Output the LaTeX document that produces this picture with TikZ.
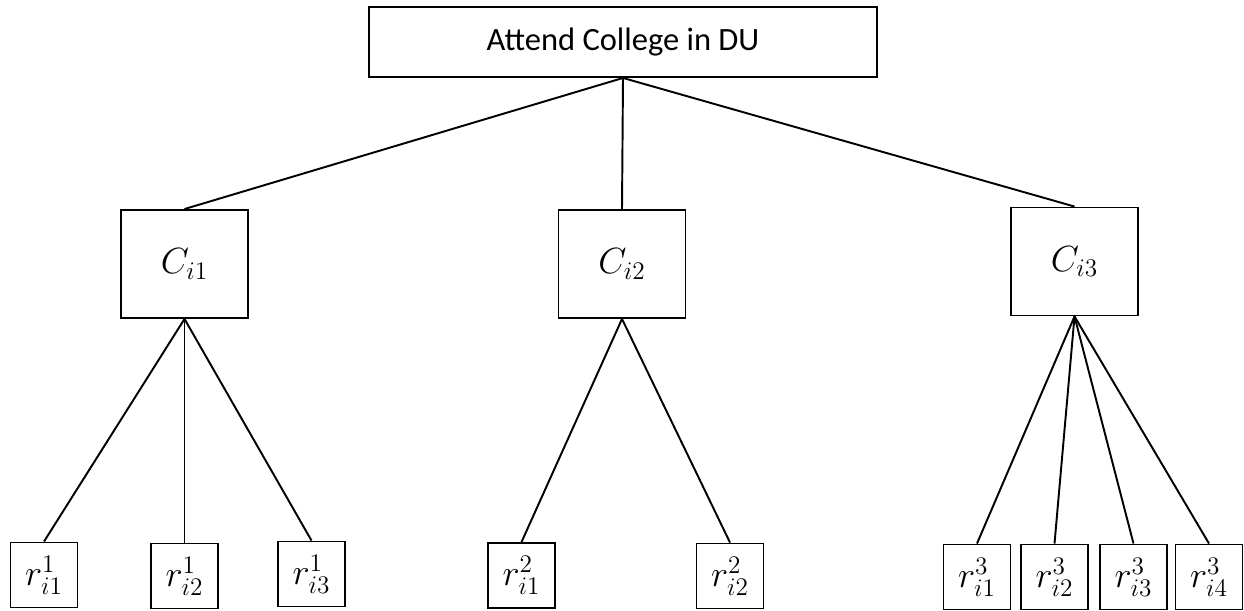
\documentclass[tikz,border=0pt]{standalone}
\usepackage{fontspec}
\setmainfont{Carlito}
\usepackage{tikz}
\usetikzlibrary{positioning}

\begin{document}
\begin{tikzpicture}[
        x=0.02cm, y=-0.02cm,
        goal/.style={
            rectangle, draw=black, line width=1.1pt,
            minimum width=10.16cm, minimum height=1.4cm,
            inner sep=0pt, font=\fontsize{18.5}{22}\selectfont
        },
        college/.style={
            rectangle, draw=black, line width=1.1pt,
            minimum width=2.54cm, minimum height=2.16cm,
            inner sep=0pt, font=\fontsize{20.5}{24}\selectfont
        },
        reason/.style={
            rectangle, draw=black, line width=1.1pt,
            minimum width=1.34cm, minimum height=1.3cm,
            inner sep=0pt, font=\fontsize{21}{24}\selectfont
        },
        link/.style={line width=1.1pt, black},
    ]

    \useasboundingbox (0,0) rectangle (1244,611);

    % ── Goal ──
    \node[goal] (goal) at (623,42) {Attend College in DU};

    % ── Colleges ──
    \node[college] (c1) at (184.5,264) {$C_{i1}$};
    \node[college] (c2) at (622,264) {$C_{i2}$};
    \node[college] (c3) at (1074.5,261.5) {$C_{i3}$};

    % ── Reasons of college 1 ──
    \node[reason] (r11) at (44,575) {$r_{i1}^{1}$};
    \node[reason] (r12) at (184.5,576) {$r_{i2}^{1}$};
    \node[reason] (r13) at (311.5,574) {$r_{i3}^{1}$};

    % ── Reasons of college 2 ──
    \node[reason] (r21) at (521.5,575.5) {$r_{i1}^{2}$};
    \node[reason] (r22) at (730,576) {$r_{i2}^{2}$};

    % ── Reasons of college 3 ──
    \node[reason] (r31) at (977,577) {$r_{i1}^{3}$};
    \node[reason] (r32) at (1054.5,577) {$r_{i2}^{3}$};
    \node[reason] (r33) at (1133.5,577) {$r_{i3}^{3}$};
    \node[reason] (r34) at (1209,577) {$r_{i4}^{3}$};

    % ── Links ──
    \foreach \c in {c1,c2,c3}
        \draw[link] (goal.south) -- (\c.north);
    \foreach \r in {r11,r12,r13}
        \draw[link] (c1.south) -- (\r.north);
    \foreach \r in {r21,r22}
        \draw[link] (c2.south) -- (\r.north);
    \foreach \r in {r31,r32,r33,r34}
        \draw[link] (c3.south) -- (\r.north);

\end{tikzpicture}
\end{document}
